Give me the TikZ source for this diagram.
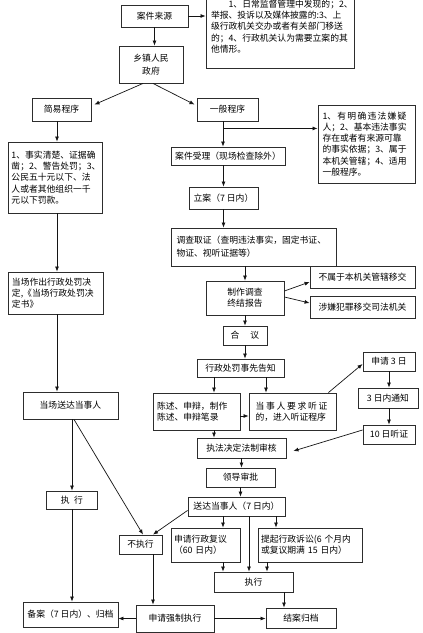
\documentclass[tikz,border=0pt]{standalone}
\usepackage{fontspec}
\newfontfamily\cjk{Noto Sans CJK SC}
\usetikzlibrary{arrows.meta}
\definecolor{frame}{RGB}{45,45,45}
\definecolor{lineink}{RGB}{20,20,20}

\tikzset{
  box/.style={draw=frame, line width=0.9pt, fill=white, inner sep=2pt, align=center,
    font=\cjk\fontsize{8.8}{11.2}\selectfont},
  para/.style={box, align=left},
  arr/.style={draw=lineink, line width=0.7pt, -{Latex[length=5pt,width=4pt]}}
}

\begin{document}
\begin{tikzpicture}[x=1pt, y=-1pt]

  \useasboundingbox (0,0) rectangle (423,633);
  \fill[white] (0,0) rectangle (423,633);
  \clip (0,0) rectangle (423,633);

  % top
  \node[box, minimum width=67pt, minimum height=22pt] (src) at (154.5,16) {案件来源};
  \node[para, minimum width=148pt, minimum height=84pt, text width=138pt] (info) at (280,26.5)
    {\hspace*{2em}1、日常监督管理中发现的；2、\\举报、投诉以及媒体披露的:3、上\\级行政机关交办或者有关部门移送\\的；4、行政机关认为需要立案的其\\他情形。};
  \node[box, minimum width=64pt, minimum height=37pt] (gov) at (151,64.5) {乡镇人民\\[2pt]政府};

  % simple procedure
  \node[box, minimum width=94pt, minimum height=71pt, text width=87pt, align=left] (sinfo) at (55,177.5)
    {1、事实清楚、证据确\\凿；2、警告处罚；3、\\公民五十元以下、法\\人或者其他组织一千\\元以下罚款。};
  \node[box, minimum width=59pt, minimum height=23pt] (simple) at (61.5,109.5) {简易程序};
  \node[para, minimum width=95pt, minimum height=42pt, text width=87pt] (sdec) at (55.5,293)
    {当场作出行政处罚决\\定,《当场行政处罚决\\定书》};
  \node[box, minimum width=95pt, minimum height=27pt] (sdeliver) at (70.5,405.5) {当场送达当事人};
  \node[box, minimum width=51pt, minimum height=18pt] (sexec) at (72,500) {执\hspace{4.5pt}行};
  \node[box, minimum width=43pt, minimum height=19pt] (noexec) at (140.5,544.5) {不执行};
  \node[box, minimum width=95pt, minimum height=25pt] (record) at (70.5,614.5) {备案（7 日内）、归档};
  \node[box, minimum width=78pt, minimum height=27pt] (force) at (175,618.5) {申请强制执行};

  % general procedure
  \node[box, minimum width=61pt, minimum height=23pt] (general) at (227.5,109.5) {一般程序};
  \node[para, minimum width=97pt, minimum height=78pt, text width=88pt] (cond) at (366.5,144)
    {\makebox[84pt]{1、\hfill 有\hfill 明\hfill 确\hfill 违\hfill 法\hfill 嫌\hfill 疑}\\人；2、基本违法事实\\存在或者有来源可靠\\的事实依据；3、属于\\本机关管辖；4、适用\\一般程序。};
  \node[box, minimum width=114pt, minimum height=18pt] (accept) at (228,156) {案件受理（现场检查除外）};
  \node[box, minimum width=69pt, minimum height=22pt] (file) at (223.5,198) {立案（7 日内）};
  \node[para, minimum width=165pt, minimum height=38pt, text width=154pt] (invest) at (253.5,247)
    {调查取证（查明违法事实，固定书证、\\[2pt]物证、视听证据等）};
  \node[box, minimum width=78pt, minimum height=34pt] (report) at (245,298) {制作调查\\终结报告};
  \node[box, minimum width=105pt, minimum height=22pt] (transfer) at (362.5,277) {不属于本机关管辖移交};
  \node[box, minimum width=105pt, minimum height=22pt] (crime) at (362.5,307) {涉嫌犯罪移交司法机关};
  \node[box, minimum width=44pt, minimum height=19pt] (discuss) at (245,335.5) {合\hspace{11pt}议};
  \node[box, minimum width=87pt, minimum height=18pt] (notify) at (240.5,368) {行政处罚事先告知};
  \node[para, minimum width=87pt, minimum height=37pt, text width=79pt] (state) at (196.5,411.5)
    {陈述、申辩，制作\\陈述、申辩笔录};
  \node[para, minimum width=87pt, minimum height=37pt, text width=74pt] (hear) at (292.5,411.5)
    {\makebox[72pt]{当\hfill 事\hfill 人\hfill 要\hfill 求\hfill 听\hfill 证}\\的，进入听证程序};
  \node[box, minimum width=52pt, minimum height=19pt] (apply3) at (389,361.5) {申请 3 日};
  \node[box, minimum width=60pt, minimum height=20pt] (notice3) at (388,398) {3 日内通知};
  \node[box, minimum width=52pt, minimum height=19pt] (hear10) at (389,434.5) {10 日听证};
  \node[box, minimum width=89pt, minimum height=20pt] (review) at (241.5,448) {执法决定法制审核};
  \node[box, minimum width=69pt, minimum height=19pt] (approve) at (240.5,477.5) {领导审批};
  \node[box, minimum width=97pt, minimum height=19pt] (deliver) at (236.5,506.5) {送达当事人（7 日内）};
  \node[para, minimum width=69pt, minimum height=34pt, text width=63pt] (recon) at (205.5,545)
    {申请行政复议\\（60 日内）};
  \node[para, minimum width=104pt, minimum height=34pt, text width=98pt] (suit) at (310,545)
    {提起行政诉讼(6 个月内\\或复议期满 15 日内）};
  \node[box, minimum width=79pt, minimum height=20pt] (exec) at (253.5,582) {执行};
  \node[box, minimum width=70pt, minimum height=20pt] (close) at (301,618) {结案归档};

  % connectors
  \draw[arr] (src.east) -- (src.east -| info.west);
  \draw[arr] (src.south) -- (src.south |- gov.north);
  \draw[arr] ([xshift=-8pt]gov.south) -- ([xshift=3pt,yshift=-7pt]simple.north east);
  \draw[arr] ([xshift=2pt]gov.south) -- ([xshift=-2pt,yshift=-7pt]general.north west);

  \draw[arr] ([xshift=-4.5pt]simple.south) -- ([xshift=-4.5pt]simple.south |- sinfo.north);
  \draw[arr] ([xshift=2pt]sinfo.south) -- ([xshift=2pt]sinfo.south |- sdec.north);
  \draw[arr] ([xshift=1.5pt]sdec.south) -- ([xshift=1.5pt]sdec.south |- sdeliver.north);
  \draw[arr] (sexec.north |- sdeliver.south) -- (sexec.north);
  \draw[arr] ([xshift=3.5pt]sdeliver.south) -- ([xshift=2.5pt]noexec.north);
  \draw[arr] ([yshift=6pt]deliver.south west) -- ([xshift=12.5pt]noexec.north);
  \draw[arr] (sexec.south) -- (sexec.south |- record.north);
  \draw[arr] ([xshift=12.5pt]noexec.south) -- ([xshift=12.5pt]noexec.south |- force.north);
  \draw[arr] (force.west) -- (force.west -| record.east);
  \draw[arr] (force.east) -- (force.east -| close.west);

  \coordinate (gbranch) at ([xshift=-4.5pt,yshift=-7pt]general.south);
  \draw[arr] ([xshift=-4.5pt]general.south) -- ([xshift=-4.5pt]general.south |- accept.north);
  \draw[arr] (gbranch) -- (gbranch -| cond.west);
  \draw[arr] (file.north |- accept.south) -- (file.north);
  \draw[arr] (file.south) -- (file.south |- invest.north);
  \draw[arr] (report.north |- invest.south) -- (report.north);
  \draw[arr] ([yshift=7pt]report.east) -- ([yshift=-5pt]transfer.west);
  \draw[arr] ([yshift=1pt]report.east) -- ([yshift=4pt]crime.west);
  \draw[arr] (report.south) -- (report.south |- discuss.north);
  \draw[arr] (discuss.south) -- (discuss.south |- notify.north);
  \draw[arr] ([xshift=-26.5pt]notify.south) -- ([xshift=-26.5pt]notify.south |- state.north);
  \draw[arr] ([xshift=25.5pt]notify.south) -- ([xshift=25.5pt]notify.south |- hear.north);
  \draw[arr] ([yshift=-4.5pt]state.east) -- ([yshift=-4.5pt]hear.west);
  \draw[arr] ([xshift=-8pt]hear.north east) -- ([yshift=-2.5pt]apply3.west);
  \draw[arr] (apply3.south) -- (apply3.south |- notice3.north);
  \draw[arr] (hear10.north |- notice3.south) -- (hear10.north);
  \draw[arr] ([yshift=4.5pt]hear10.west) -- ([xshift=7pt,yshift=-3pt]review.east);
  \draw[arr] ([xshift=17.5pt]state.south) -- ([xshift=17.5pt]state.south |- review.north);
  \draw[arr] (review.south) -- (review.south |- approve.north);
  \draw[arr] (approve.south) -- (approve.south |- deliver.north);
  \draw[arr] ([xshift=-13.5pt]deliver.south) -- ([xshift=-13.5pt]deliver.south |- recon.north);
  \draw[arr] ([xshift=12.5pt]deliver.south) -- ([xshift=12.5pt]deliver.south |- exec.north);
  \draw[arr] ([xshift=39.5pt]deliver.south) -- ([xshift=39.5pt]deliver.south |- suit.north);
  \draw[arr] ([xshift=17.5pt]recon.south) -- ([xshift=17.5pt]recon.south |- exec.north);
  \draw[arr] ([xshift=-43pt]suit.south) -- ([xshift=-43pt]suit.south |- exec.north);
  \draw[arr] ([xshift=30.5pt]exec.south) -- ([xshift=30.5pt]exec.south |- close.north);

\end{tikzpicture}
\end{document}
